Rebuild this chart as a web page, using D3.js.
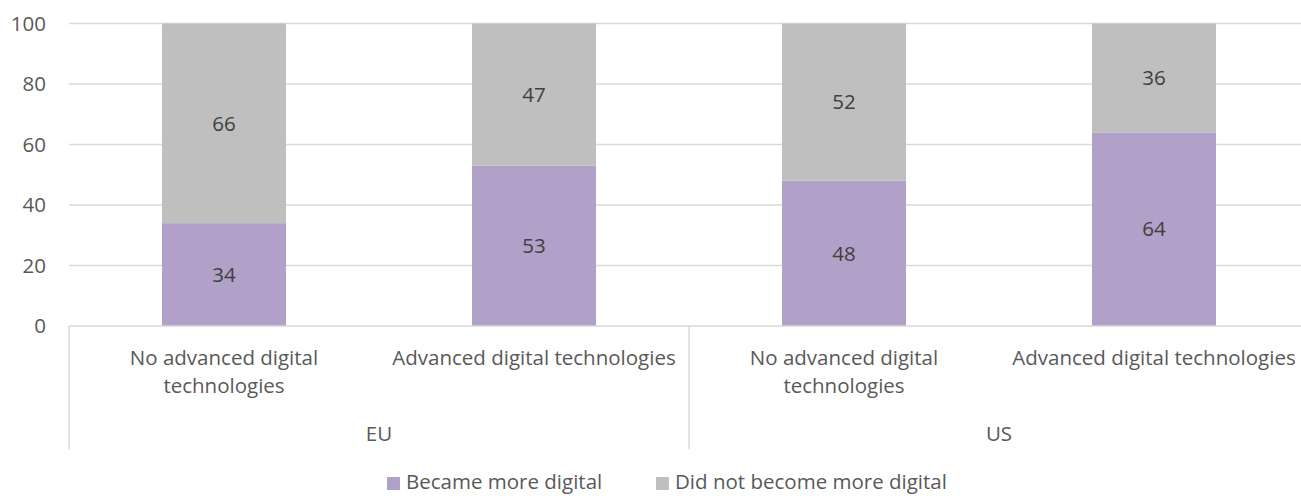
<!DOCTYPE html>
<html>
<head>
<meta charset="utf-8">
<script src="https://cdn.jsdelivr.net/npm/d3@7"></script>
<style>
  body { margin: 0; background: #fff; }
  svg { display: block; font-family: "Open Sans", "Noto Sans", sans-serif; }
</style>
</head>
<body>
<svg id="chart" width="1301" height="496"></svg>
<script>
// data
const groups = ["EU", "US"];
const categories = ["No advanced digital technologies", "Advanced digital technologies"];
const categoryLines = [["No advanced digital", "technologies"], ["Advanced digital technologies"]];
const seriesNames = ["Became more digital", "Did not become more digital"];
const becameMore = [34, 53, 48, 64];
const didNotBecome = [66, 47, 52, 36];
const yTicks = [0, 20, 40, 60, 80, 100];
const colors = ["#B1A0C7", "#BFBFBF"];

const fontSize = 20.5;
const svg = d3.select("#chart");
const margin = { left: 69, top: 23.5, right: -8, bottom: 170 };
const width = 1301 - margin.left - margin.right;
const plotBottom = 326;
const height = plotBottom - margin.top;

const g = svg.append("g").attr("transform", `translate(${margin.left},${margin.top})`);

// one row per bar, keys combine group + category
const rows = [];
groups.forEach((grp, gi) => {
    categories.forEach((cat, ci) => {
        const i = gi * categories.length + ci;
        rows.push({ key: grp + "|" + cat, group: grp, cat: ci, b: becameMore[i], d: didNotBecome[i] });
    });
});

const xscale = d3.scaleBand().domain(rows.map(r => r.key)).range([0, width]).paddingInner(0.6).paddingOuter(0.3);
const yscale = d3.scaleLinear().domain([0, 100]).range([height, 0]);

// gridlines
g.append("g")
    .selectAll("line")
    .data(yTicks.filter(t => t > 0))
    .join("line")
    .attr("x1", 0).attr("x2", width)
    .attr("y1", d => yscale(d)).attr("y2", d => yscale(d))
    .attr("stroke", "#D9D9D9").attr("stroke-width", 1.5);

// y axis labels
const yaxis = d3.axisLeft(yscale).tickValues(yTicks).tickSize(0).tickPadding(23);
const g_yaxis = g.append("g").call(yaxis);
g_yaxis.select(".domain").remove();
g_yaxis.selectAll("text").attr("font-size", fontSize).attr("fill", "#595959").attr("font-family", "Open Sans, sans-serif");

// stacked bars
const stack = d3.stack().keys(["b", "d"])(rows);
stack.forEach((layer, li) => {
    g.append("g")
        .selectAll("rect")
        .data(layer)
        .join("rect")
        .attr("x", d => xscale(d.data.key))
        .attr("width", xscale.bandwidth())
        .attr("y", d => yscale(d[1]))
        .attr("height", d => yscale(d[0]) - yscale(d[1]))
        .attr("fill", colors[li]);

    g.append("g")
        .selectAll("text")
        .data(layer)
        .join("text")
        .attr("x", d => xscale(d.data.key) + xscale.bandwidth() / 2)
        .attr("y", d => yscale((d[0] + d[1]) / 2))
        .attr("dy", "0.35em")
        .attr("text-anchor", "middle")
        .attr("font-size", fontSize)
        .attr("fill", "#404040")
        .text(d => d[1] - d[0]);
});

// baseline
g.append("line")
    .attr("x1", 0).attr("x2", width)
    .attr("y1", height).attr("y2", height)
    .attr("stroke", "#D9D9D9").attr("stroke-width", 1.5);

// hierarchical category axis
const step = xscale.step();
const groupWidth = step * categories.length;
const axisBottom = 449 - margin.top;
groups.forEach((grp, gi) => {
    const x0 = gi * groupWidth;
    g.append("line")
        .attr("x1", x0).attr("x2", x0)
        .attr("y1", height).attr("y2", axisBottom)
        .attr("stroke", "#D9D9D9").attr("stroke-width", 1.5);
    g.append("text")
        .attr("x", x0 + groupWidth / 2)
        .attr("y", 434 - margin.top)
        .attr("dy", "0.35em")
        .attr("text-anchor", "middle")
        .attr("font-size", fontSize)
        .attr("fill", "#595959")
        .text(grp);
});

rows.forEach(r => {
    const cx = xscale(r.key) + xscale.bandwidth() / 2;
    const t = g.append("text")
        .attr("text-anchor", "middle")
        .attr("font-size", fontSize)
        .attr("fill", "#595959");
    categoryLines[r.cat].forEach((line, li) => {
        t.append("tspan")
            .attr("x", cx)
            .attr("y", 358 - margin.top + li * 28)
            .attr("dy", "0.35em")
            .text(line);
    });
});

// legend
const legendX = [387, 656];
seriesNames.forEach((name, i) => {
    svg.append("rect")
        .attr("x", legendX[i]).attr("y", 477)
        .attr("width", 13).attr("height", 13)
        .attr("fill", colors[i]);
    svg.append("text")
        .attr("x", legendX[i] + 19).attr("y", 482)
        .attr("dy", "0.35em")
        .attr("font-size", fontSize)
        .attr("fill", "#595959")
        .text(name);
});
</script>
</body>
</html>
